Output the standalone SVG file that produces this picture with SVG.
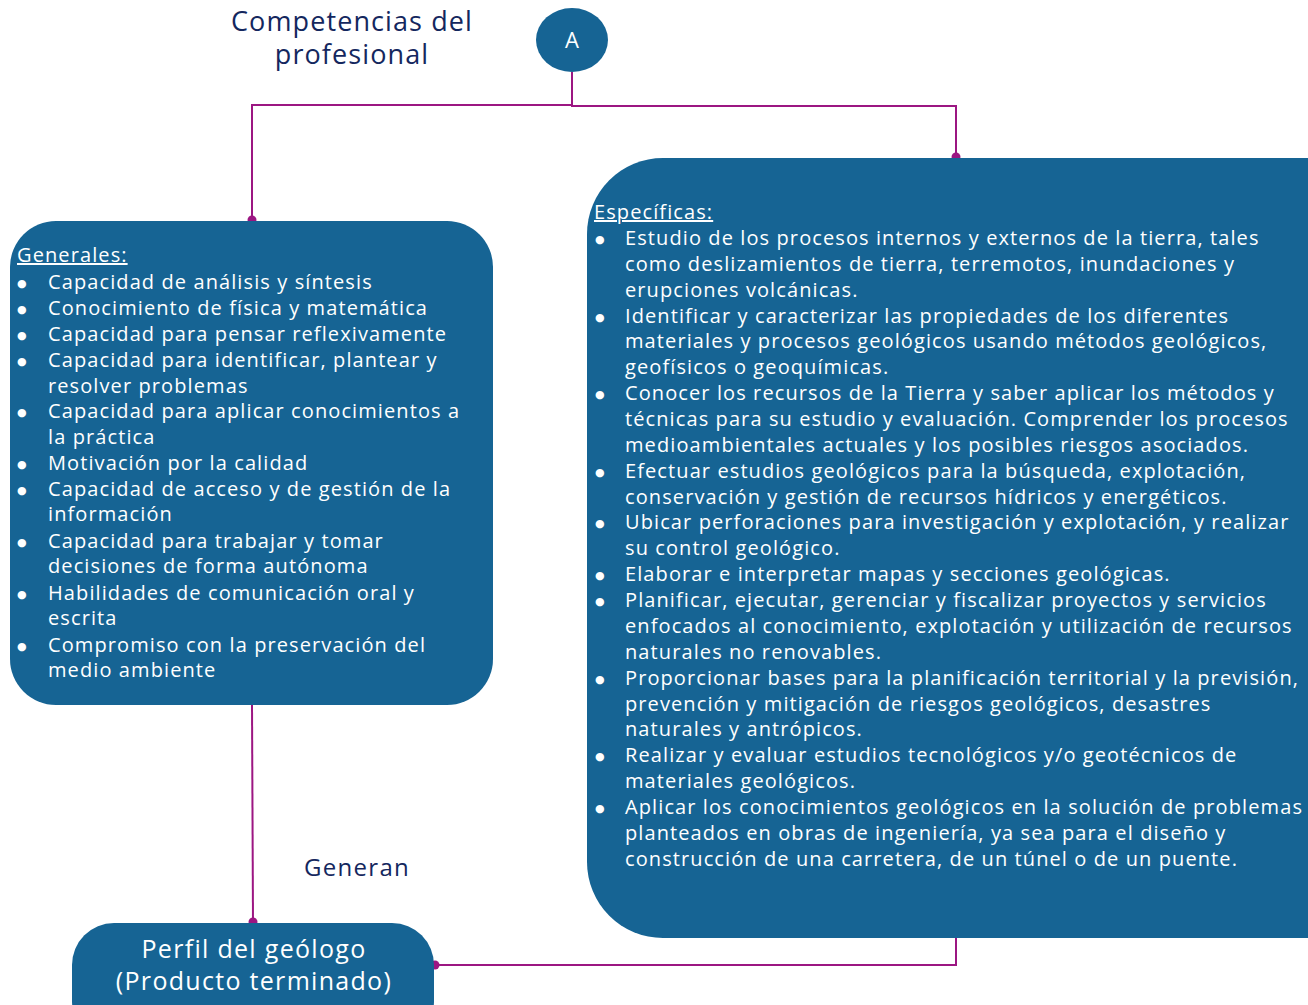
<svg xmlns="http://www.w3.org/2000/svg" width="1308" height="1005" viewBox="0 0 1308 1005">
<style>
.box{fill:#166494}
.t{font-family:"Open Sans","Noto Sans",sans-serif;font-size:20px;letter-spacing:1.1px;fill:#ffffff}
.b{font-family:"DejaVu Sans",sans-serif;font-size:11px;letter-spacing:0}
.h{text-decoration:underline}
.title{font-family:"Open Sans","Noto Sans",sans-serif;fill:#14275e;text-anchor:middle}
.c{font-family:"Open Sans","Noto Sans",sans-serif;fill:#ffffff;text-anchor:middle}
.ln{fill:none;stroke:#9c1682;stroke-width:2}
.dot{fill:#9c1682}
</style>
<rect width="1308" height="1005" fill="#ffffff"/>
<text class="title" font-size="27" letter-spacing="1.1" x="352" y="31">Competencias del</text>
<text class="title" font-size="27" letter-spacing="1.1" x="352" y="64">profesional</text>
<text class="title" font-size="24" letter-spacing="1.3" x="357" y="876">Generan</text>
<g id="connectors">
<path class="ln" d="M572,72 V105 H252 V220"/>
<path class="ln" d="M572,105 V106 H956 V157"/>
<path class="ln" d="M252,705 L253,922"/>
<path class="ln" d="M435,965 H956 V938"/>
<circle class="dot" cx="252" cy="220" r="4.5"/>
<circle class="dot" cx="956" cy="157" r="4.5"/>
<circle class="dot" cx="253" cy="922" r="4.5"/>
<circle class="dot" cx="435" cy="965" r="4.5"/>
</g>
<g id="nodeA">
<ellipse class="box" cx="572" cy="40" rx="36" ry="32"/>
<text class="c" font-size="22" x="572" y="48">A</text>
</g>
<g id="generales">
<rect class="box" x="10" y="221" width="483" height="484" rx="46"/>
<g class="t">
<text x="17" y="262" class="h">Generales:</text>
<text class="b" x="17" y="287">●</text><text x="48" y="289">Capacidad de análisis y síntesis</text>
<text class="b" x="17" y="313">●</text><text x="48" y="315">Conocimiento de física y matemática</text>
<text class="b" x="17" y="339">●</text><text x="48" y="341">Capacidad para pensar reflexivamente</text>
<text class="b" x="17" y="365">●</text><text x="48" y="367">Capacidad para identificar, plantear y</text>
<text x="48" y="393">resolver problemas</text>
<text class="b" x="17" y="416">●</text><text x="48" y="418">Capacidad para aplicar conocimientos a</text>
<text x="48" y="444">la práctica</text>
<text class="b" x="17" y="468">●</text><text x="48" y="470">Motivación por la calidad</text>
<text class="b" x="17" y="494">●</text><text x="48" y="496">Capacidad de acceso y de gestión de la</text>
<text x="48" y="521">información</text>
<text class="b" x="17" y="546">●</text><text x="48" y="548">Capacidad para trabajar y tomar</text>
<text x="48" y="573">decisiones de forma autónoma</text>
<text class="b" x="17" y="598">●</text><text x="48" y="600">Habilidades de comunicación oral y</text>
<text x="48" y="625">escrita</text>
<text class="b" x="17" y="650">●</text><text x="48" y="652">Compromiso con la preservación del</text>
<text x="48" y="677">medio ambiente</text>
</g>
</g>
<g id="especificas">
<rect class="box" x="587" y="158" width="800" height="780" rx="76"/>
<g class="t">
<text x="594" y="219" class="h">Específicas:</text>
<text class="b" x="595" y="243">●</text><text x="625" y="245">Estudio de los procesos internos y externos de la tierra, tales</text>
<text x="625" y="271">como deslizamientos de tierra, terremotos, inundaciones y</text>
<text x="625" y="297">erupciones volcánicas.</text>
<text class="b" x="595" y="321">●</text><text x="625" y="323">Identificar y caracterizar las propiedades de los diferentes</text>
<text x="625" y="348">materiales y procesos geológicos usando métodos geológicos,</text>
<text x="625" y="374">geofísicos o geoquímicas.</text>
<text class="b" x="595" y="398">●</text><text x="625" y="400">Conocer los recursos de la Tierra y saber aplicar los métodos y</text>
<text x="625" y="426">técnicas para su estudio y evaluación. Comprender los procesos</text>
<text x="625" y="452">medioambientales actuales y los posibles riesgos asociados.</text>
<text class="b" x="595" y="476">●</text><text x="625" y="478">Efectuar estudios geológicos para la búsqueda, explotación,</text>
<text x="625" y="504">conservación y gestión de recursos hídricos y energéticos.</text>
<text class="b" x="595" y="527">●</text><text x="625" y="529">Ubicar perforaciones para investigación y explotación, y realizar</text>
<text x="625" y="555">su control geológico.</text>
<text class="b" x="595" y="579">●</text><text x="625" y="581">Elaborar e interpretar mapas y secciones geológicas.</text>
<text class="b" x="595" y="605">●</text><text x="625" y="607">Planificar, ejecutar, gerenciar y fiscalizar proyectos y servicios</text>
<text x="625" y="633">enfocados al conocimiento, explotación y utilización de recursos</text>
<text x="625" y="659">naturales no renovables.</text>
<text class="b" x="595" y="683">●</text><text x="625" y="685">Proporcionar bases para la planificación territorial y la previsión,</text>
<text x="625" y="711">prevención y mitigación de riesgos geológicos, desastres</text>
<text x="625" y="736">naturales y antrópicos.</text>
<text class="b" x="595" y="760">●</text><text x="625" y="762">Realizar y evaluar estudios tecnológicos y/o geotécnicos de</text>
<text x="625" y="788">materiales geológicos.</text>
<text class="b" x="595" y="812">●</text><text x="625" y="814">Aplicar los conocimientos geológicos en la solución de problemas</text>
<text x="625" y="840">planteados en obras de ingeniería, ya sea para el diseño y</text>
<text x="625" y="866">construcción de una carretera, de un túnel o de un puente.</text>
</g>
</g>
<g id="perfil">
<rect class="box" x="72" y="923" width="362" height="120" rx="42"/>
<text class="c" font-size="25" letter-spacing="1.3" x="254" y="958">Perfil del geólogo</text>
<text class="c" font-size="25" letter-spacing="1.3" x="254" y="990">(Producto terminado)</text>
</g>
</svg>
